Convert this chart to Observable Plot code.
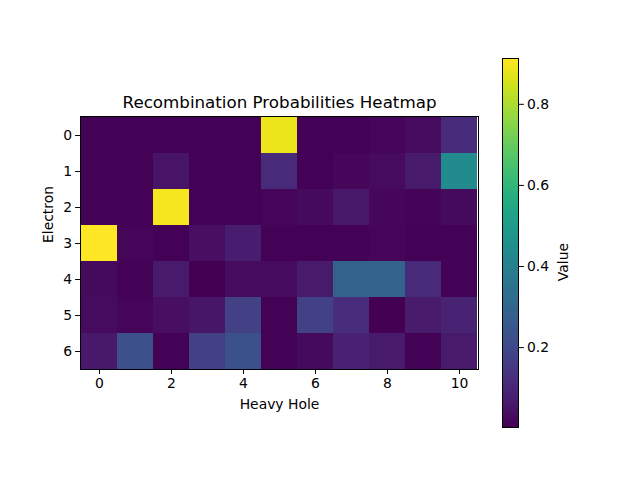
<!DOCTYPE html>
<html>
<head>
<meta charset="utf-8">
<script src="https://cdn.jsdelivr.net/npm/d3@7"></script>
<script src="https://cdn.jsdelivr.net/npm/@observablehq/plot@0.6"></script>
<style>
  html, body { margin: 0; padding: 0; background: #fff; }
  #wrap { position: relative; width: 640px; height: 480px; }
  #wrap svg { position: absolute; left: 0; top: 0; }
</style>
</head>
<body>
<div id="wrap"></div>
<script>
const title = "Recombination Probabilities Heatmap";
const xLabel = "Heavy Hole";
const yLabel = "Electron";
const colorLabel = "Value";
const heavyHoles = [0, 1, 2, 3, 4, 5, 6, 7, 8, 9, 10];
const electrons = [0, 1, 2, 3, 4, 5, 6];
const xTicks = [0, 2, 4, 6, 8, 10];
const colorTicks = [0.2, 0.4, 0.6, 0.8];
const row0 = [0.010, 0.010, 0.010, 0.010, 0.010, 0.885, 0.010, 0.010, 0.015, 0.030, 0.110];
const row1 = [0.010, 0.010, 0.050, 0.010, 0.010, 0.110, 0.010, 0.020, 0.030, 0.065, 0.440];
const row2 = [0.010, 0.010, 0.900, 0.010, 0.010, 0.015, 0.025, 0.060, 0.020, 0.012, 0.025];
const row3 = [0.913, 0.015, 0.010, 0.035, 0.075, 0.010, 0.010, 0.010, 0.015, 0.010, 0.010];
const row4 = [0.025, 0.008, 0.065, 0.003, 0.030, 0.030, 0.065, 0.290, 0.290, 0.110, 0.008];
const row5 = [0.030, 0.015, 0.035, 0.055, 0.180, 0.010, 0.180, 0.120, 0.003, 0.070, 0.090];
const row6 = [0.060, 0.225, 0.008, 0.180, 0.230, 0.008, 0.025, 0.085, 0.065, 0.008, 0.065];
const valueRows = [row0, row1, row2, row3, row4, row5, row6];

const cells = [];
electrons.forEach((e, i) => heavyHoles.forEach((h, j) => cells.push({e, h, v: valueRows[i][j]})));
const extent = d3.extent(cells, d => d.v);

const font = "DejaVu Sans, sans-serif";
const W = 640, H = 480;

const heat = Plot.plot({
  width: W, height: H,
  marginLeft: 80, marginRight: 162, marginTop: 116, marginBottom: 111,
  style: {fontFamily: font, fontSize: "13.9px", color: "#000", background: "transparent"},
  x: {type: "band", domain: heavyHoles, padding: 0, ticks: xTicks, tickSize: 4.9, tickPadding: 3.5, label: null},
  y: {type: "band", domain: electrons, padding: 0, tickSize: 4.9, tickPadding: 3.5, label: null},
  color: {type: "linear", scheme: "viridis", domain: extent},
  marks: [
    Plot.cell(cells, {x: "h", y: "e", fill: "v", inset: 0, shapeRendering: "crispEdges"}),
    Plot.frame({stroke: "#000", strokeWidth: 1}),
    Plot.axisX({ticks: xTicks, tickSize: 4.9, tickPadding: 3.5, label: null}),
    Plot.axisY({tickSize: 4.9, tickPadding: 3.5, label: null}),
    Plot.text([title], {frameAnchor: "top", dy: -14, fontSize: 16.7, lineAnchor: "middle"}),
    Plot.text([xLabel], {frameAnchor: "bottom", dy: 35, fontSize: 13.9, lineAnchor: "middle"}),
    Plot.text([yLabel], {frameAnchor: "left", dx: -32, rotate: -90, fontSize: 13.9, lineAnchor: "middle"})
  ]
});

const steps = 256;
const bands = d3.range(steps).map(i => {
  const a = extent[0] + (extent[1] - extent[0]) * i / steps;
  const b = extent[0] + (extent[1] - extent[0]) * (i + 1) / steps;
  return {y1: a, y2: b, v: (a + b) / 2};
});

const bar = Plot.plot({
  width: W, height: H,
  marginLeft: 502, marginRight: 122, marginTop: 58, marginBottom: 53,
  style: {fontFamily: font, fontSize: "13.9px", color: "#000", background: "transparent"},
  x: {domain: [0, 1], axis: null},
  y: {domain: extent, axis: null},
  color: {type: "linear", scheme: "viridis", domain: extent},
  marks: [
    Plot.rect(bands, {x1: 0, x2: 1, y1: "y1", y2: "y2", fill: "v", stroke: "v", strokeWidth: 0.5, shapeRendering: "crispEdges"}),
    Plot.frame({stroke: "#000", strokeWidth: 1}),
    Plot.axisY({anchor: "right", ticks: colorTicks, tickFormat: d3.format(".1f"), tickSize: 4.9, tickPadding: 3.5, label: null}),
    Plot.text([colorLabel], {frameAnchor: "right", dx: 45, rotate: -90, fontSize: 13.9, lineAnchor: "middle"})
  ]
});

const wrap = document.getElementById("wrap");
wrap.appendChild(heat);
wrap.appendChild(bar);
</script>
</body>
</html>
